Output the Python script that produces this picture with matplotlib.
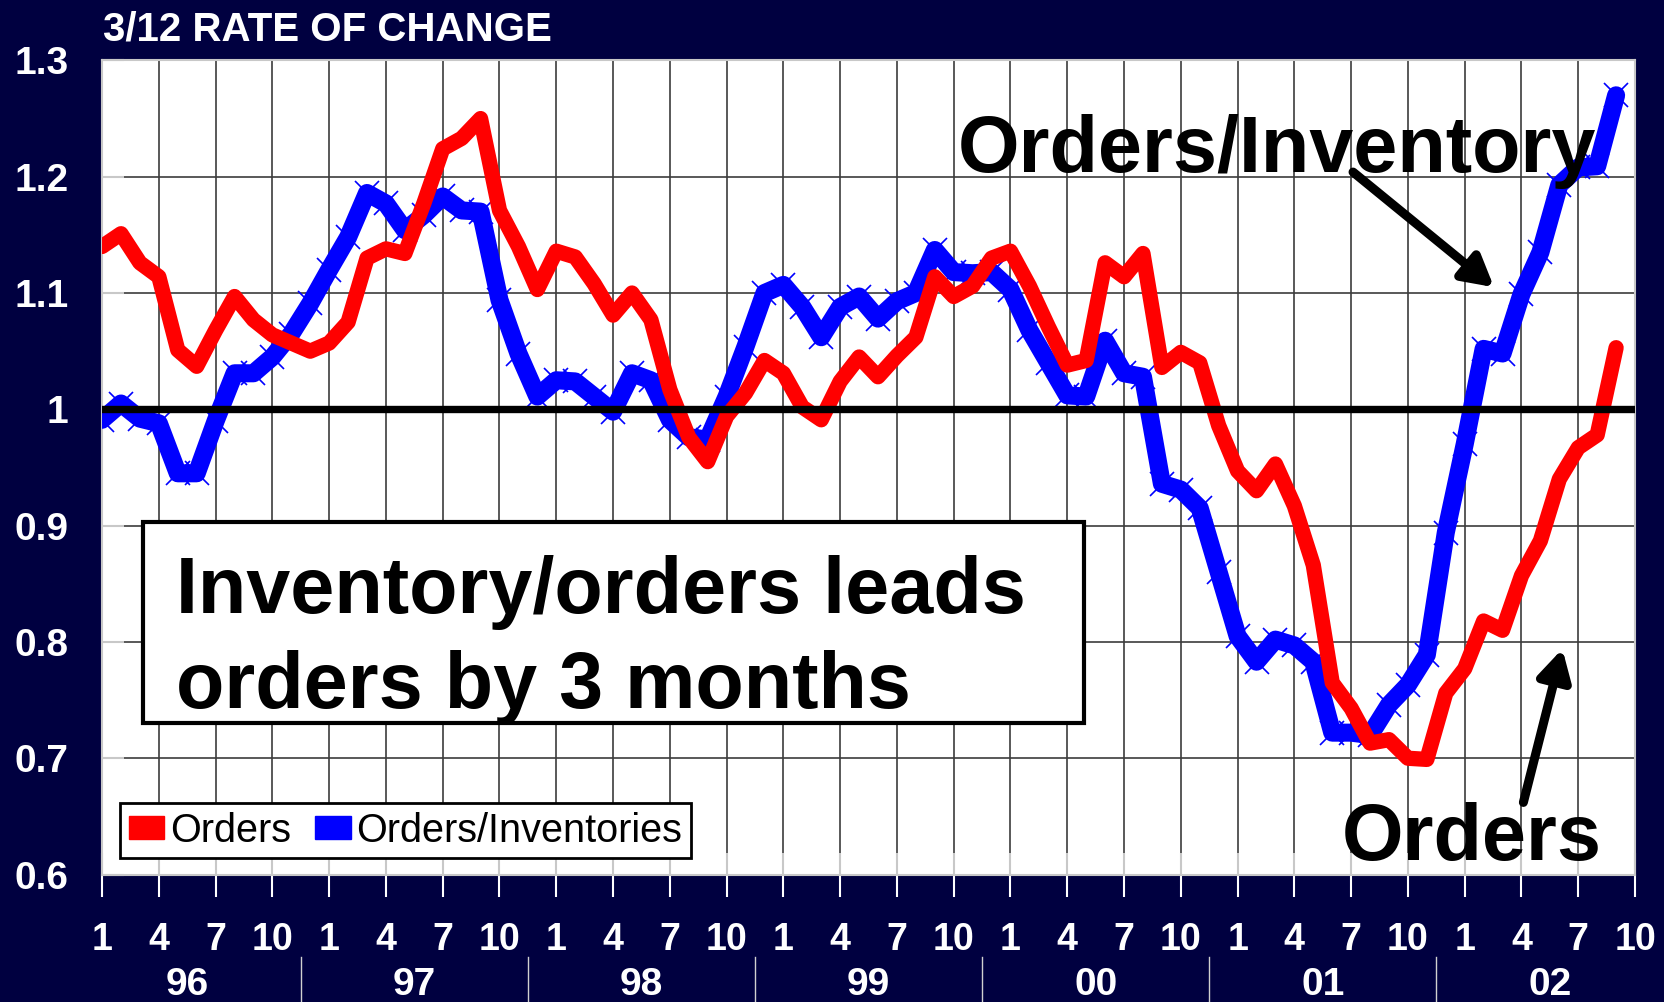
import matplotlib
matplotlib.use('Agg')
import matplotlib.pyplot as plt
import matplotlib.transforms as mtransforms
from matplotlib.patches import Patch, Rectangle
import numpy as np

plt.rcParams['font.family'] = ['Liberation Sans', 'DejaVu Sans']

# 3/12 rate of change, monthly, Jan 1996 .. Sep 2002
orders = [1.140, 1.151, 1.126, 1.114, 1.051, 1.037, 1.068, 1.097, 1.077, 1.064,
          1.057, 1.050, 1.057, 1.075, 1.130, 1.138, 1.134, 1.177, 1.224, 1.233,
          1.250, 1.171, 1.140, 1.103, 1.136, 1.131, 1.108, 1.081, 1.100, 1.077,
          1.017, 0.976, 0.955, 0.994, 1.014, 1.042, 1.031, 1.002, 0.991, 1.024,
          1.045, 1.028, 1.046, 1.062, 1.114, 1.097, 1.106, 1.130, 1.136, 1.106,
          1.071, 1.038, 1.042, 1.126, 1.114, 1.134, 1.036, 1.049, 1.040, 0.986,
          0.947, 0.930, 0.953, 0.917, 0.866, 0.765, 0.743, 0.713, 0.716, 0.700,
          0.699, 0.756, 0.777, 0.818, 0.810, 0.857, 0.887, 0.940, 0.967, 0.978,
          1.053]
orders_inv = [0.991, 1.005, 0.992, 0.988, 0.945, 0.945, 0.990, 1.031, 1.031, 1.045,
              1.065, 1.091, 1.120, 1.148, 1.186, 1.177, 1.154, 1.167, 1.183, 1.171,
              1.170, 1.094, 1.048, 1.011, 1.025, 1.024, 1.011, 0.998, 1.031, 1.025,
              0.991, 0.976, 0.974, 1.011, 1.054, 1.100, 1.107, 1.088, 1.062, 1.088,
              1.097, 1.078, 1.093, 1.100, 1.137, 1.118, 1.117, 1.118, 1.103, 1.068,
              1.040, 1.012, 1.011, 1.059, 1.031, 1.028, 0.936, 0.931, 0.915, 0.860,
              0.805, 0.783, 0.802, 0.797, 0.783, 0.722, 0.722, 0.720, 0.746, 0.763,
              0.789, 0.894, 0.970, 1.052, 1.048, 1.099, 1.135, 1.193, 1.208, 1.209,
              1.270]

month_labels = ['1', '4', '7', '10']
years = ['96', '97', '98', '99', '00', '01', '02']
y_ticks = [0.6, 0.7, 0.8, 0.9, 1.0, 1.1, 1.2, 1.3]
y_labels = ['0.6', '0.7', '0.8', '0.9', '1', '1.1', '1.2', '1.3']

navy = '#000040'

fig = plt.figure(figsize=(16.65, 10.02), dpi=100, facecolor=navy)
ax = fig.add_axes([0.0613, 0.1272, 0.9207, 0.8125])
ax.set_facecolor('white')

months = np.arange(len(orders))
ax.plot(months, orders_inv, color='#0000ff', lw=13, marker='x', ms=17, mew=1.2,
        mec='#0000ff', solid_capstyle='round', solid_joinstyle='round', zorder=3)
ax.plot(months, orders, color='#ff0000', lw=11,
        solid_capstyle='round', solid_joinstyle='round', zorder=4)
ax.axhline(1.0, color='black', lw=5.3, zorder=5)

ax.set_xlim(0, 81)
ax.set_ylim(0.6, 1.3)

qticks = np.arange(0, 82, 3)
ax.set_xticks(qticks)
ax.set_xticklabels(month_labels * len(years))
ax.set_xticks(qticks, minor=True)
ax.xaxis.remove_overlapping_locs = False
ax.set_yticks(y_ticks)
ax.set_yticklabels(y_labels)

ax.grid(True, which='major', color='#3c3c3c', lw=1.2)
ax.tick_params(axis='x', which='major', direction='out', length=16, width=1.5,
               color='white', pad=18, labelsize=27, labelcolor='white')
ax.tick_params(axis='x', which='minor', direction='in', length=16, width=1.5,
               color='#c8c8c8')
ax.tick_params(axis='y', direction='in', length=16, width=1.5, color='#c8c8c8',
               pad=24, labelsize=28, labelcolor='white')
for lbl in ax.get_xticklabels() + ax.get_yticklabels():
    lbl.set_fontweight('bold')
for sp in ax.spines.values():
    sp.set_color('#c8c8c8')
    sp.set_linewidth(1.5)

# year row under the month labels
trans = mtransforms.blended_transform_factory(ax.transData, ax.transAxes)
for i, yr in enumerate(years):
    ax.text(4.5 + 12 * i, -0.148, yr, transform=trans, ha='center', va='baseline',
            color='white', fontsize=28, fontweight='bold')
for i in range(1, len(years)):
    ax.plot([12 * i - 1.5] * 2, [-0.101, -0.16], transform=trans, clip_on=False,
            color='#d0d0d0', lw=1)

fig.text(0.0619, 0.960, '3/12 RATE OF CHANGE', color='white', fontsize=29,
         fontweight='bold', va='baseline')

# note box
ax.add_patch(Rectangle((2.17, 0.7303), 51.9 - 2.17, 0.9034 - 0.7303,
                       facecolor='white', edgecolor='black', lw=3, zorder=6))
ax.text(3.9, 0.825, 'Inventory/orders leads', fontsize=57, fontweight='bold',
        va='baseline', zorder=7)
ax.text(3.9, 0.743, 'orders by 3 months', fontsize=57, fontweight='bold',
        va='baseline', zorder=7)

ax.text(45.2, 1.204, 'Orders/Inventory', fontsize=57, fontweight='bold',
        va='baseline', zorder=7)
ax.text(65.5, 0.6125, 'Orders', fontsize=57, fontweight='bold',
        va='baseline', zorder=7)

arrow = dict(arrowstyle='-|>,head_length=0.9,head_width=0.5', lw=6.5,
             color='black', shrinkA=0, shrinkB=0, mutation_scale=20)
ax.annotate('', xy=(73.55, 1.105), xytext=(66.1, 1.204), arrowprops=arrow, zorder=8)
ax.annotate('', xy=(77.16, 0.794), xytext=(75.1, 0.662), arrowprops=arrow, zorder=8)

handles = [Patch(facecolor='#ff0000', edgecolor='#ff0000'),
           Patch(facecolor='#0000ff', edgecolor='#0000ff')]
leg = ax.legend(handles, ['Orders', 'Orders/Inventories'], loc='lower left',
                bbox_to_anchor=(0.0117, 0.020), ncol=2, fontsize=28.5,
                frameon=True, fancybox=False, edgecolor='black', framealpha=1,
                borderaxespad=0, handlelength=0.9, handleheight=0.55,
                handletextpad=0.15, columnspacing=0.6, borderpad=0.22)
leg.get_frame().set_linewidth(2)

fig.savefig('out.png', dpi=100, facecolor=navy)
